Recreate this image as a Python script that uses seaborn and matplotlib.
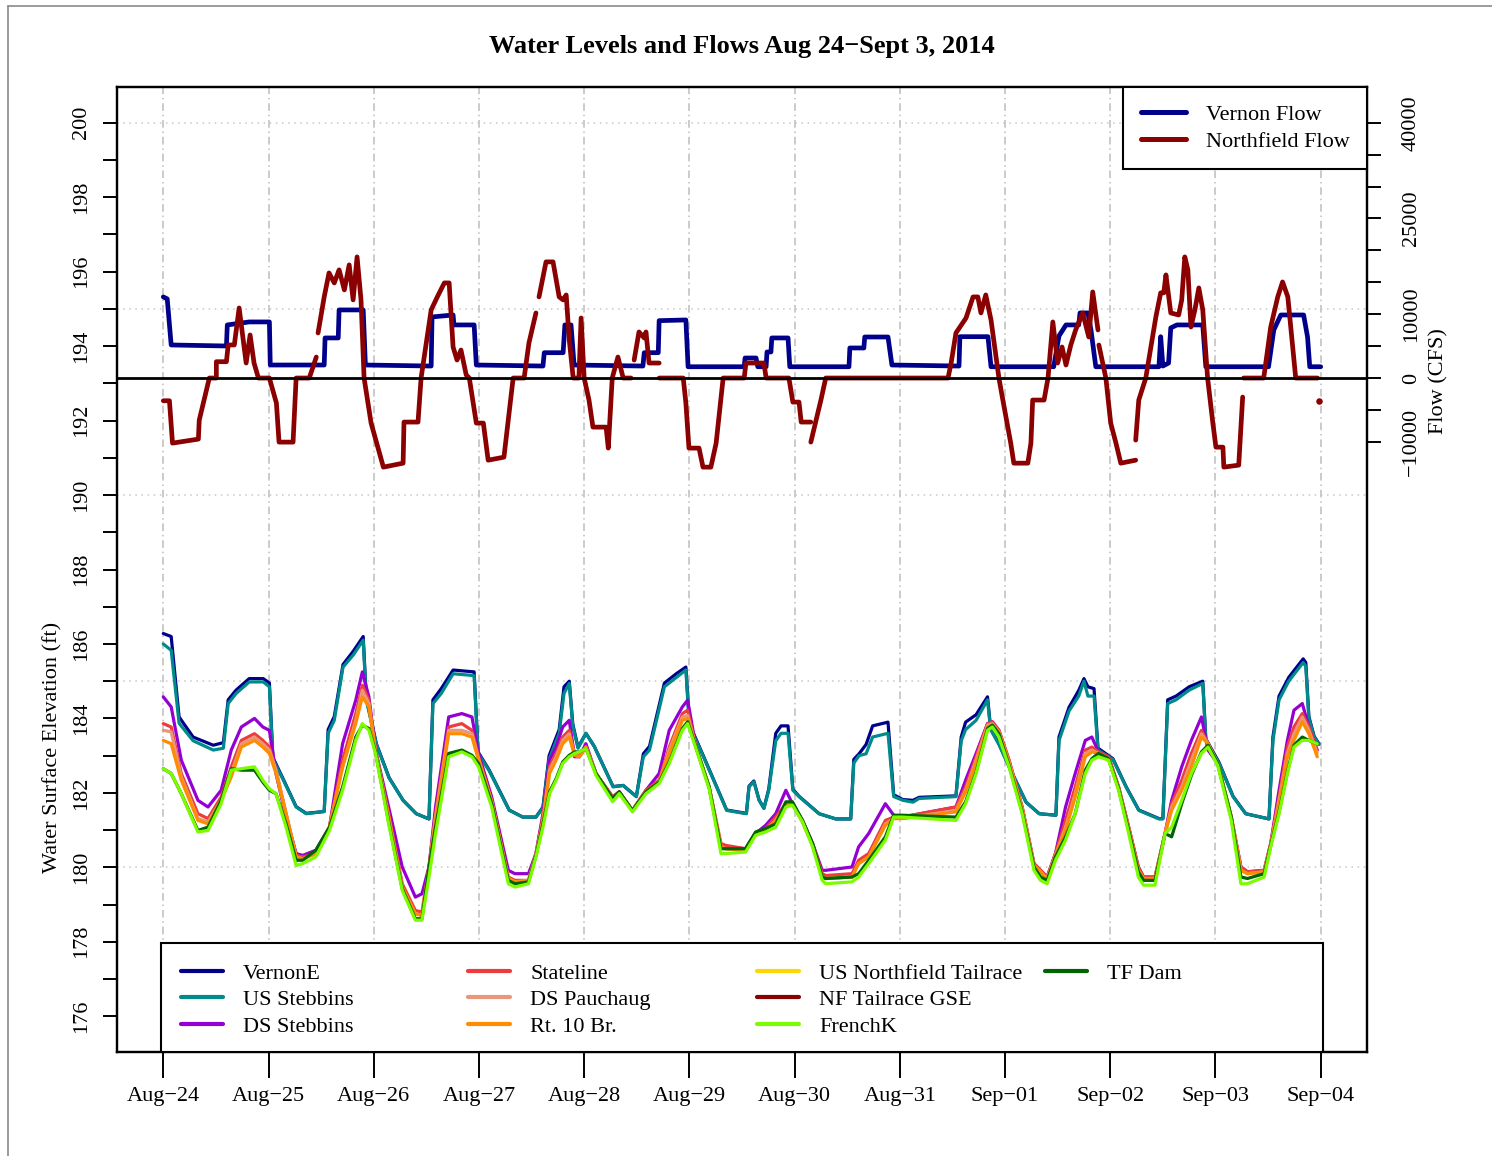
import numpy as np
import pandas as pd
import seaborn as sns
import matplotlib.pyplot as plt
from matplotlib.lines import Line2D
from matplotlib.patches import Rectangle

nan = np.nan

# ---- data (hours from Aug 24 00:00) ----
day_hours = [0, 24, 48, 72, 96, 120, 144, 168, 192, 216, 240, 264]
day_labels = ["Aug\u221224", "Aug\u221225", "Aug\u221226", "Aug\u221227", "Aug\u221228", "Aug\u221229",
              "Aug\u221230", "Aug\u221231", "Sep\u221201", "Sep\u221202", "Sep\u221203", "Sep\u221204"]

upper_hours = [0, 1.8, 3.6, 6.8, 11.4, 13.7, 14.8, 16.6, 19.6, 22.8,
               24.2, 25.0, 27.4, 30.3, 32.6, 36.7, 37.6, 39.0, 41.0, 43.3,
               45.6, 46.3, 48.6, 51.5, 54.7, 57.7, 60.6, 61.5, 63.4, 66.1,
               70.9, 71.8, 74.3, 78.9, 82.0, 85.0, 86.6, 88.0, 90.3, 91.4,
               92.6, 93.4, 94.6, 96.4, 98.3, 102.6, 104.9, 107.9, 109.5, 110.9,
               113.6, 114.3, 117.0, 119.2, 120.0, 123.2, 126.2, 128.5, 133.0, 133.6,
               134.7, 135.9, 137.0, 138.1, 139.7, 140.9, 142.5, 143.6, 145.0, 149.6,
               153.4, 156.8, 157.5, 158.7, 160.3, 161.8, 165.3, 166.6, 168.7, 171.0,
               172.4, 180.8, 182.0, 183.0, 185.4, 188.0, 188.7, 190.6, 193.7, 196.8,
               199.8, 203.6, 204.3, 206.6, 208.8, 210.0, 210.9, 212.3, 213.2, 216.6,
               219.6, 222.5, 227.1, 228.0, 229.1, 231.0, 234.0, 237.1, 237.8, 240.8,
               244.0, 246.9, 252.2, 253.1, 254.5, 256.7, 260.0, 260.6, 261.3, 262.5,
               263.6]

vernon_e = [186.28, 186.20, 184.04, 183.50, 183.28, 183.35, 184.50, 184.76, 185.07, 185.07,
            184.95, 182.95, 182.36, 181.63, 181.45, 181.50, 183.70, 184.05, 185.45, 185.80,
            186.20, 184.55, 183.32, 182.41, 181.80, 181.44, 181.30, 184.50, 184.80, 185.30,
            185.25, 183.10, 182.62, 181.54, 181.35, 181.35, 181.62, 183.00, 183.70, 184.85,
            185.00, 183.85, 183.22, 183.60, 183.25, 182.17, 182.20, 181.90, 183.05, 183.25,
            184.60, 184.95, 185.20, 185.38, 183.85, 182.99, 182.17, 181.54, 181.45, 182.18,
            182.32, 181.81, 181.59, 182.10, 183.60, 183.80, 183.80, 182.10, 181.91, 181.44,
            181.30, 181.30, 182.90, 183.05, 183.30, 183.80, 183.90, 181.95, 181.82, 181.80,
            181.88, 181.92, 183.50, 183.90, 184.10, 184.58, 183.75, 183.32, 182.51, 181.75,
            181.44, 181.40, 183.50, 184.30, 184.75, 185.07, 184.85, 184.80, 183.20, 182.92,
            182.17, 181.54, 181.31, 181.31, 184.50, 184.60, 184.85, 185.00, 183.45, 182.82,
            181.91, 181.44, 181.30, 183.50, 184.60, 185.10, 185.60, 185.50, 184.05, 183.52,
            183.32]

us_stebbins = [186.00, 185.83, 183.87, 183.40, 183.15, 183.20, 184.40, 184.67, 184.98, 184.98,
               184.85, 182.90, 182.34, 181.62, 181.44, 181.50, 183.60, 183.95, 185.38, 185.70,
               186.10, 184.50, 183.30, 182.40, 181.80, 181.44, 181.30, 184.40, 184.67, 185.20,
               185.15, 183.06, 182.60, 181.53, 181.35, 181.35, 181.60, 182.90, 183.60, 184.67,
               184.94, 183.80, 183.20, 183.60, 183.25, 182.16, 182.20, 181.90, 182.97, 183.15,
               184.50, 184.85, 185.10, 185.30, 183.80, 182.97, 182.16, 181.53, 181.44, 182.16,
               182.30, 181.80, 181.58, 182.07, 183.40, 183.60, 183.60, 182.07, 181.90, 181.44,
               181.30, 181.30, 182.80, 183.00, 183.05, 183.50, 183.60, 181.90, 181.80, 181.75,
               181.85, 181.90, 183.40, 183.70, 183.95, 184.50, 183.70, 183.30, 182.50, 181.75,
               181.44, 181.40, 183.40, 184.20, 184.60, 185.00, 184.60, 184.60, 183.15, 182.90,
               182.16, 181.53, 181.30, 181.30, 184.40, 184.50, 184.76, 184.94, 183.40, 182.80,
               181.90, 181.44, 181.30, 183.40, 184.50, 185.00, 185.50, 185.40, 184.00, 183.50,
               183.30]

lower_hours = [0, 1.8, 4.1, 7.9, 10.2, 13.2, 15.5, 17.8, 20.8, 22.7,
               24.2, 25.7, 28.0, 30.3, 31.8, 34.8, 37.9, 40.9, 43.9, 45.4,
               46.9, 48.4, 51.4, 54.5, 57.5, 59.0, 60.6, 62.1, 65.1, 68.1,
               70.4, 71.9, 74.9, 78.7, 80.2, 83.3, 85.0, 86.6, 88.1, 89.6,
               91.1, 92.6, 93.8, 94.9, 96.4, 98.7, 102.5, 104.0, 107.0, 110.1,
               113.1, 115.4, 118.4, 119.6, 121.5, 124.5, 127.2, 128.3, 132.8, 135.1,
               137.4, 139.7, 142.0, 143.5, 145.8, 148.1, 150.3, 151.1, 157.1, 158.6,
               160.9, 164.7, 166.6, 168.5, 180.8, 183.0, 185.4, 188.0, 189.1, 190.6,
               192.9, 195.9, 198.6, 200.1, 201.6, 203.5, 205.8, 208.0, 210.3, 211.8,
               213.3, 215.6, 217.9, 220.2, 222.4, 223.6, 226.2, 228.5, 230.0, 232.3,
               234.5, 236.8, 238.3, 240.5, 243.6, 245.8, 247.3, 251.1, 252.6, 254.5,
               256.4, 257.9, 259.8, 261.3, 263.2]

ds_stebbins = [184.58, 184.31, 182.88, 181.80, 181.62, 182.07, 183.15, 183.77, 184.00, 183.77,
               183.68, 182.52, 181.35, 180.37, 180.32, 180.46, 181.08, 183.32, 184.49, 185.25,
               184.58, 183.15, 181.62, 180.01, 179.20, 179.29, 180.01, 181.62, 184.04, 184.13,
               184.04, 183.06, 181.89, 179.92, 179.83, 179.83, 180.37, 181.44, 182.88, 183.23,
               183.77, 183.95, 182.97, 182.97, 183.32, 182.52, 181.89, 182.03, 181.53, 182.07,
               182.52, 183.68, 184.31, 184.49, 183.23, 182.16, 180.55, 180.55, 180.50, 180.91,
               181.13, 181.44, 182.07, 181.71, 181.26, 180.64, 179.92, 179.92, 180.01, 180.55,
               180.91, 181.71, 181.40, 181.35, 181.62, 182.34, 183.06, 183.86, 183.91, 183.68,
               182.88, 181.62, 180.10, 179.92, 179.74, 180.37, 181.62, 182.52, 183.41, 183.50,
               183.10, 182.97, 182.16, 181.08, 180.01, 179.74, 179.74, 180.91, 181.80, 182.70,
               183.41, 184.04, 183.15, 182.79, 181.35, 180.01, 179.88, 179.92, 180.64, 182.07,
               183.41, 184.22, 184.40, 183.77, 183.15]

stateline = [183.86, 183.77, 182.52, 181.44, 181.31, 181.89, 182.70, 183.41, 183.59, 183.41,
             183.23, 182.61, 181.44, 180.32, 180.28, 180.37, 181.08, 182.88, 184.13, 184.89,
             184.49, 183.15, 181.44, 179.56, 178.84, 178.80, 180.01, 181.44, 183.77, 183.86,
             183.68, 182.97, 181.80, 179.74, 179.65, 179.65, 180.37, 181.35, 182.70, 183.06,
             183.50, 183.68, 183.06, 182.97, 183.23, 182.52, 181.89, 182.03, 181.53, 182.07,
             182.34, 183.23, 184.13, 184.22, 183.23, 182.16, 180.64, 180.59, 180.50, 180.91,
             181.04, 181.35, 181.71, 181.71, 181.26, 180.64, 179.83, 179.78, 179.83, 180.19,
             180.37, 181.26, 181.35, 181.35, 181.62, 182.16, 182.97, 183.86, 183.91, 183.68,
             182.88, 181.62, 180.10, 179.92, 179.74, 180.37, 181.26, 182.16, 183.15, 183.23,
             183.10, 182.97, 182.16, 181.08, 180.01, 179.74, 179.74, 180.91, 181.71, 182.34,
             183.06, 183.68, 183.32, 182.79, 181.35, 180.01, 179.88, 179.92, 180.64, 181.89,
             183.23, 183.77, 184.13, 183.77, 183.15]

ds_pauchaug = [183.68, 183.64, 182.43, 181.31, 181.22, 181.80, 182.52, 183.32, 183.50, 183.32,
               183.15, 182.61, 181.44, 180.28, 180.23, 180.37, 181.08, 182.70, 183.95, 184.76,
               184.40, 183.10, 181.35, 179.47, 178.75, 178.71, 179.96, 181.35, 183.68, 183.68,
               183.59, 182.92, 181.76, 179.70, 179.61, 179.65, 180.32, 181.26, 182.61, 182.97,
               183.41, 183.59, 183.01, 182.97, 183.23, 182.52, 181.85, 181.98, 181.53, 182.03,
               182.29, 183.15, 184.04, 184.08, 183.23, 182.16, 180.55, 180.50, 180.46, 180.91,
               180.99, 181.26, 181.67, 181.71, 181.22, 180.59, 179.74, 179.70, 179.74, 180.10,
               180.28, 181.17, 181.31, 181.31, 181.53, 182.07, 182.88, 183.82, 183.86, 183.64,
               182.83, 181.58, 180.05, 179.88, 179.70, 180.32, 181.08, 181.98, 183.06, 183.15,
               183.06, 182.92, 182.11, 181.04, 179.92, 179.70, 179.70, 180.91, 181.62, 182.16,
               182.88, 183.59, 183.32, 182.79, 181.35, 179.92, 179.83, 179.88, 180.59, 181.80,
               183.06, 183.59, 184.04, 183.68, 183.06]

rt10_br = [183.41, 183.32, 182.34, 181.26, 181.17, 181.80, 182.43, 183.23, 183.41, 183.23,
           183.06, 182.52, 181.44, 180.28, 180.23, 180.37, 181.08, 182.70, 183.86, 184.58,
           184.31, 183.10, 181.35, 179.47, 178.75, 178.71, 179.96, 181.26, 183.59, 183.59,
           183.50, 182.88, 181.76, 179.70, 179.61, 179.65, 180.32, 181.22, 182.52, 182.88,
           183.32, 183.50, 183.01, 182.97, 183.23, 182.52, 181.85, 181.98, 181.53, 182.03,
           182.29, 183.06, 183.95, 184.00, 183.23, 182.16, 180.55, 180.50, 180.46, 180.91,
           180.99, 181.26, 181.67, 181.71, 181.22, 180.59, 179.74, 179.70, 179.74, 180.10,
           180.28, 181.13, 181.31, 181.31, 181.49, 182.03, 182.79, 183.77, 183.82, 183.64,
           182.83, 181.58, 180.05, 179.88, 179.65, 180.32, 180.99, 181.89, 182.97, 183.10,
           183.06, 182.92, 182.11, 181.04, 179.92, 179.70, 179.70, 180.91, 181.53, 182.07,
           182.70, 183.50, 183.32, 182.79, 181.35, 179.92, 179.83, 179.88, 180.59, 181.71,
           182.97, 183.41, 183.91, 183.59, 182.97]

tf_dam = [182.65, 182.52, 181.98, 180.99, 181.08, 181.80, 182.65, 182.61, 182.61, 182.29,
          182.07, 181.98, 181.17, 180.19, 180.19, 180.46, 181.08, 182.16, 183.50, 183.82,
          183.73, 183.10, 181.22, 179.43, 178.62, 178.62, 180.01, 181.08, 183.06, 183.15,
          183.01, 182.79, 181.71, 179.65, 179.56, 179.61, 180.32, 181.17, 182.03, 182.38,
          182.83, 183.01, 183.10, 183.10, 183.19, 182.52, 181.85, 182.03, 181.53, 182.03,
          182.29, 182.83, 183.73, 183.91, 183.23, 182.16, 180.50, 180.50, 180.50, 180.95,
          181.04, 181.17, 181.76, 181.76, 181.26, 180.64, 179.74, 179.70, 179.74, 179.83,
          180.19, 180.82, 181.40, 181.40, 181.35, 181.76, 182.56, 183.73, 183.82, 183.59,
          182.74, 181.49, 180.01, 179.74, 179.65, 180.28, 180.82, 181.44, 182.61, 182.92,
          183.06, 182.92, 182.11, 180.99, 179.88, 179.65, 179.65, 180.91, 180.82, 181.71,
          182.47, 183.10, 183.28, 182.79, 181.35, 179.74, 179.70, 179.83, 180.59, 181.49,
          182.56, 183.28, 183.50, 183.41, 183.32]

french_k = [182.65, 182.52, 181.98, 180.95, 180.99, 181.71, 182.61, 182.65, 182.70, 182.34,
            182.11, 181.98, 181.08, 180.05, 180.10, 180.28, 180.99, 182.07, 183.41, 183.86,
            183.68, 183.06, 181.17, 179.38, 178.58, 178.58, 179.74, 180.91, 182.97, 183.10,
            182.97, 182.70, 181.62, 179.56, 179.47, 179.56, 180.28, 181.08, 181.98, 182.34,
            182.79, 182.97, 183.06, 183.10, 183.19, 182.47, 181.76, 181.98, 181.49, 181.98,
            182.25, 182.79, 183.68, 183.86, 183.19, 182.11, 180.37, 180.37, 180.41, 180.86,
            180.95, 181.08, 181.62, 181.67, 181.22, 180.55, 179.65, 179.56, 179.61, 179.74,
            180.10, 180.73, 181.35, 181.35, 181.26, 181.71, 182.52, 183.68, 183.77, 183.50,
            182.70, 181.44, 179.92, 179.65, 179.56, 180.19, 180.73, 181.44, 182.52, 182.88,
            182.97, 182.88, 182.07, 180.91, 179.74, 179.52, 179.52, 180.91, 181.08, 181.80,
            182.52, 183.06, 183.23, 182.74, 181.26, 179.56, 179.56, 179.74, 180.55, 181.44,
            182.52, 183.23, 183.41, 183.41, 183.32]

# flows (cfs); nan marks a gap in the record
vernon_flow_hours = [0, 0.9, 1.8, 14.4, 14.6, 19.6, 24.2, 24.4, 36.7, 36.9,
                     39.9, 40.1, 45.6, 46.1, 61.1, 61.3, 66.1, 66.3, 70.9, 71.4,
                     86.6, 86.9, 91.2, 91.6, 93.0, 93.7, 109.4, 109.7, 112.9, 113.1,
                     119.2, 119.7, 132.5, 132.7, 135.2, 135.6, 137.5, 137.7, 138.6, 138.8,
                     142.5, 142.9, 156.4, 156.6, 159.8, 160.0, 165.3, 166.2, 181.5, 181.7,
                     188.1, 188.8, 203.1, 204.3, 205.9, 208.8, 209.1, 210.9, 211.6, 212.7,
                     227.1, 227.5, 228.0, 229.3, 229.8, 231.2, 237.1, 237.8, 252.1, 253.3,
                     254.9, 260.1, 261.0, 261.5, 264.0]
vernon_flow = [12710, 12400, 5180, 5020, 8320, 8790, 8790, 2040, 2040, 6280,
               6280, 10670, 10670, 2040, 1880, 9570, 9880, 8320, 8320, 2040,
               1880, 3970, 3970, 8320, 8320, 2040, 1880, 3970, 3970, 8990,
               9100, 1770, 1770, 3140, 3140, 1770, 1770, 4080, 4080, 6280,
               6280, 1770, 1770, 4710, 4710, 6430, 6430, 2040, 1880, 6480,
               6480, 1770, 1770, 6590, 8320, 8320, 10200, 10200, 7530, 1770,
               1770, 6480, 1880, 2350, 7850, 8320, 8320, 1770, 1770, 7530,
               9880, 9880, 6430, 1770, 1770]

northfield_hours = [0, 1.4, 2.1, 8.0, 8.2, 9.3, 10.5, 12.1, 12.1, 14.4,
                    14.8, 16.2, 17.3, 18.9, 19.8, 20.7, 21.7, 24.2, 25.8, 26.4,
                    29.6, 30.3, 33.3, 34.9, nan, 35.3, 36.7, 37.8, 39.0, 40.1,
                    41.3, 42.4, 43.3, 44.2, 45.1, 45.8, 47.4, 50.2, 54.7, 54.9,
                    58.1, 58.8, 61.1, 62.5, 64.1, 65.2, 66.1, 67.0, 67.9, 69.1,
                    69.8, 71.4, 73.0, 74.1, 77.7, 79.8, 82.3, 83.4, 85.0, nan,
                    85.7, 87.3, 88.9, 90.3, 91.2, 91.9, 92.6, 93.5, 94.8, 95.3,
                    96.0, 97.1, 98.0, 101.0, 101.5, 102.4, 103.7, 104.9, 106.7, nan,
                    107.4, 108.5, 109.7, 110.1, 110.8, 113.1, nan, 113.1, 118.6, 119.2,
                    119.9, 122.2, 123.1, 124.9, 126.1, 127.7, 132.5, 132.9, 137.0, 137.5,
                    142.7, 143.6, 145.0, 145.5, 147.7, nan, 147.7, 150.0, 151.1, 179.0,
                    179.7, 180.8, 183.1, 184.7, 185.8, 186.5, 187.6, 188.8, 190.6, 191.5,
                    193.3, 194.0, 197.2, 197.9, 198.3, 200.9, 201.8, 202.9, 204.0, 205.0,
                    205.9, 207.0, 208.1, 209.7, 211.1, 212.0, 213.2, nan, 213.4, 215.0,
                    216.1, 217.3, 218.4, 221.8, nan, 221.8, 222.5, 224.1, 226.4, 227.5,
                    228.2, 228.7, 229.8, 231.6, 232.3, 233.0, 233.7, 234.4, 235.3, 236.2,
                    237.1, 238.2, 239.4, 240.1, 241.7, 241.9, 245.3, 246.2, nan, 246.4,
                    251.0, 252.6, 254.2, 255.3, 256.5, 258.3, 263.3]
northfield_flow = [-3560, -3560, -10200, -9570, -6590, -3450, 0, 0, 2560, 2560,
                   5180, 5180, 10980, 2350, 6750, 2350, 0, 0, -3920, -10040,
                   -10040, 0, 0, 3290, nan, 7060, 12710, 16470, 14900, 16950,
                   13810, 17730, 12240, 18980, 12240, 0, -7060, -13960, -13340, -6900,
                   -6900, 0, 10670, 12710, 14900, 14900, 4860, 2820, 4390, 470,
                   0, -7060, -7060, -12870, -12400, 0, 0, 5490, 10200, nan,
                   12710, 18200, 18200, 12710, 12240, 13020, 5960, 0, 0, 9410,
                   0, -3450, -7690, -7690, -10980, 0, 3290, 0, 0, nan,
                   2820, 7220, 6280, 7220, 2350, 2350, nan, 0, 0, -3920,
                   -10980, -10980, -13960, -13960, -10200, 0, 0, 2350, 2350, 0,
                   0, -3770, -3770, -6900, -6900, nan, -10040, -3450, 0, 0,
                   2350, 7060, 9410, 12710, 12710, 10200, 13020, 9100, 0, -3450,
                   -10200, -13340, -13340, -10200, -3450, -3450, 0, 8790, 2350, 4860,
                   2040, 5180, 7530, 10200, 6430, 13490, 7530, nan, 5180, 0,
                   -7060, -10200, -13340, -12870, nan, -9730, -3450, 0, 9570, 13340,
                   13340, 16160, 10200, 9880, 12240, 18980, 16950, 8000, 10670, 14120,
                   10670, 0, -7060, -10830, -10830, -13960, -13650, -2980, nan, 0,
                   0, 8000, 12710, 15060, 12710, 0, 0]
northfield_last_hour = [263.5]
northfield_last_flow = [-3560]

level_names = ["VernonE", "US Stebbins", "DS Stebbins", "Stateline", "DS Pauchaug", "Rt. 10 Br.",
               "US Northfield Tailrace", "NF Tailrace GSE", "FrenchK", "TF Dam"]
level_colors = ["#00008B", "#008B8B", "#9400D3", "#EE3B3B", "#E9967A", "#FF8C00",
                "#FFD700", "#8B0000", "#7CFC00", "#006400"]
flow_names = ["Vernon Flow", "Northfield Flow"]
flow_colors = ["#00008B", "#8B0000"]

# ---- style ----
sns.set_theme(style="ticks", rc={"axes.edgecolor": "black", "xtick.color": "black",
                                 "ytick.color": "black", "axes.linewidth": 1.5})
plt.rcParams["font.family"] = ["Liberation Serif", "DejaVu Serif"]
plt.rcParams["text.color"] = "black"
plt.rcParams["axes.labelcolor"] = "black"

fig = plt.figure(figsize=(14.92, 11.56), dpi=100)
ax = fig.add_axes([117 / 1492, 1 - 1052 / 1156, 1250 / 1492, 965 / 1156])
ax.set_xlim(-10.56, 274.56)
ax.set_ylim(175.04, 200.96)

# grid
for h in day_hours:
    ax.axvline(h, color="#BDBDBD", lw=1.1, ls=(0, (5, 2.5, 1, 2.5)), zorder=0)
for e in [180, 185, 190, 195, 200]:
    ax.axhline(e, color="#C8C8C8", lw=1.1, ls=(0, (1, 3)), zorder=0)

# water levels
levels = {
    "VernonE": (upper_hours, vernon_e),
    "US Stebbins": (upper_hours, us_stebbins),
    "DS Stebbins": (lower_hours, ds_stebbins),
    "Stateline": (lower_hours, stateline),
    "DS Pauchaug": (lower_hours, ds_pauchaug),
    "Rt. 10 Br.": (lower_hours, rt10_br),
    "TF Dam": (lower_hours, tf_dam),
    "FrenchK": (lower_hours, french_k),
}
color_of = dict(zip(level_names, level_colors))
for name, (hrs, vals) in levels.items():
    sns.lineplot(x=hrs, y=vals, ax=ax, color=color_of[name], lw=2.3, sort=False,
                 estimator=None, legend=False, solid_joinstyle="round", solid_capstyle="round")

# flows on secondary axis
ax2 = ax.twinx()
ax2.set_ylim(-105600, 45600)


def flow_frame(hours, flow):
    df = pd.DataFrame({"hour": hours, "flow": flow})
    df["seg"] = np.cumsum(df["flow"].isna())
    return df


sns.lineplot(data=flow_frame(vernon_flow_hours, vernon_flow), x="hour", y="flow", units="seg",
             estimator=None, sort=False, ax=ax2, color=flow_colors[0], lw=3.4,
             solid_joinstyle="round", solid_capstyle="round")
sns.lineplot(data=flow_frame(northfield_hours, northfield_flow), x="hour", y="flow", units="seg",
             estimator=None, sort=False, ax=ax2, color=flow_colors[1], lw=3.4,
             solid_joinstyle="round", solid_capstyle="round")
sns.scatterplot(x=northfield_last_hour, y=northfield_last_flow, ax=ax2, color=flow_colors[1],
                s=22, linewidth=0)
ax2.axhline(0, color="black", lw=2.0, zorder=6)

# axes / ticks
ax.set_xticks(day_hours)
ax.set_xticklabels(day_labels, fontsize=16)
ax.tick_params(axis="x", length=19, width=1.4, pad=6, direction="out")
elev_ticks = list(range(176, 201))
ax.set_yticks(elev_ticks)
ax.set_yticklabels([str(v) if v % 2 == 0 else "" for v in elev_ticks], fontsize=16)
ax.tick_params(axis="y", length=10, width=1.4, pad=9, direction="out")
for lab in ax.get_yticklabels():
    lab.set_rotation(90)
    lab.set_va("center")
    lab.set_ha("right")
ax.set_xlabel("")
ax.set_ylabel("Water Surface Elevation (ft)", fontsize=16)
ax.yaxis.set_label_coords(-0.044, 0.316)

flow_ticks = list(range(-10000, 40001, 5000))
flow_shown = {-10000: "\u221210000", 0: "0", 10000: "10000", 25000: "25000", 40000: "40000"}
ax2.set_yticks(flow_ticks)
ax2.set_yticklabels([flow_shown.get(v, "") for v in flow_ticks], fontsize=16)
ax2.tick_params(axis="y", length=10, width=1.4, pad=15, direction="out")
for lab in ax2.get_yticklabels():
    lab.set_rotation(90)
    lab.set_va("center")
    lab.set_ha("left")
ax2.set_xlabel("")
ax2.set_ylabel("Flow (CFS)", fontsize=16)
ax2.yaxis.set_label_coords(1.050, 0.695)

for a in (ax, ax2):
    for s in a.spines.values():
        s.set_visible(True)
        s.set_linewidth(1.6)
        s.set_color("black")

# legends
flow_handles = [Line2D([], [], color=c, lw=3.6) for c in flow_colors]
leg_top = ax2.legend(flow_handles, flow_names, loc="upper right", bbox_to_anchor=(1, 1),
                     borderaxespad=0, fontsize=16, fancybox=False, framealpha=1,
                     edgecolor="black", handlelength=2.05, handletextpad=0.88,
                     labelspacing=0.3, borderpad=0.78)
leg_top.get_frame().set_linewidth(1.5)
leg_top.set_zorder(10)
ax2.add_artist(leg_top)

ax2.add_patch(Rectangle((44 / 1250, 0), 1162 / 1250, 109 / 965, transform=ax2.transAxes,
                        facecolor="white", edgecolor="black", lw=1.5, zorder=9))
col_x = [64 / 1250, 351 / 1250, 640 / 1250, 928 / 1250]
for ci, cx in enumerate(col_x):
    names = level_names[ci * 3:ci * 3 + 3]
    cols = level_colors[ci * 3:ci * 3 + 3]
    hds = [Line2D([], [], color=c, lw=3.0) for c in cols]
    lg = ax2.legend(hds, names, loc="upper left", bbox_to_anchor=(cx, 89 / 965), frameon=False,
                    borderaxespad=0, borderpad=0, fontsize=16, handlelength=1.9,
                    handletextpad=0.9, labelspacing=0.27)
    lg.set_zorder(11)
    ax2.add_artist(lg)
ax2.legend_ = None

fig.text(742 / 1492, 1 - 47 / 1156, "Water Levels and Flows Aug 24\u2212Sept 3, 2014",
         ha="center", va="center", fontsize=19, fontweight="bold")

# frame of the original screenshot
fig.add_artist(Line2D([8 / 1492, 8 / 1492], [0, 1 - 5.5 / 1156], transform=fig.transFigure,
                      color="#8A8A8A", lw=1.2))
fig.add_artist(Line2D([8 / 1492, 1], [1 - 5.5 / 1156, 1 - 5.5 / 1156], transform=fig.transFigure,
                      color="#8A8A8A", lw=1.2))

fig.savefig("out.png", dpi=100, facecolor="white")
